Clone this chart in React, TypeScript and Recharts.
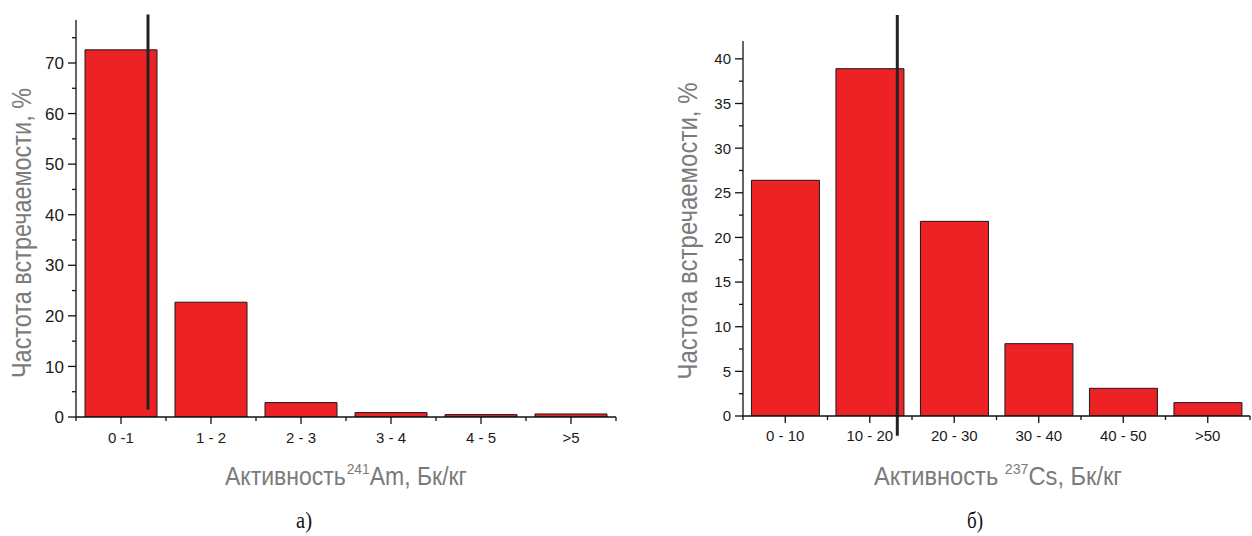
import { BarChart, Bar, XAxis, YAxis, ReferenceLine } from 'recharts';

// activity classes and frequency (%) — panel a) 241Am
const amCategories = ['0 -1', '1 - 2', '2 - 3', '3 - 4', '4 - 5', '>5'];
const amValues = [72.6, 22.7, 2.85, 0.87, 0.47, 0.6];
const amTicks = [0, 5, 10, 15, 20, 25, 30, 35, 40, 45, 50, 55, 60, 65, 70, 75];
const amMarker = [0, 0.8, 1.5, 79.6]; // category index, fraction of band, y from, y to

// panel б) 237Cs
const csCategories = ['0 - 10', '10 - 20', '20 - 30', '30 - 40', '40 - 50', '>50'];
const csValues = [26.4, 38.9, 21.8, 8.1, 3.1, 1.5];
const csTicks = [0, 2.5, 5, 7.5, 10, 12.5, 15, 17.5, 20, 22.5, 25, 27.5, 30, 32.5, 35, 37.5, 40];
const csMarker = [1, 0.826, -2.2, 44.9];

const amData = amCategories.map((name, i) => ({ name, value: amValues[i] }));
const csData = csCategories.map((name, i) => ({ name, value: csValues[i] }));

const FONT = '"Liberation Sans", Arial, sans-serif';
const AXIS = '#111';
const RED = '#ED2224';
const GREY = '#7b7b7b';

const makeYTick = (step: number, fontSize: number) => (props: any) => {
  const { x, y, payload } = props;
  const major = Math.abs(payload.value / step - Math.round(payload.value / step)) < 1e-6;
  return (
    <g>
      <line x1={x - (major ? 8 : 4)} x2={x} y1={y} y2={y} stroke={AXIS} strokeWidth={1.3} />
      {major && (
        <text x={x - 12} y={y} dy="0.36em" textAnchor="end" fontSize={fontSize} fontFamily={FONT} fill="#1a1a1a">
          {payload.value}
        </text>
      )}
    </g>
  );
};

const makeXTick = (band: number, count: number, dy: number) => (props: any) => {
  const { x, y, payload, index } = props;
  return (
    <g>
      <line x1={x} x2={x} y1={y} y2={y + 7} stroke={AXIS} strokeWidth={1.3} />
      <line x1={x - band / 2} x2={x - band / 2} y1={y} y2={y + 4} stroke={AXIS} strokeWidth={1.3} />
      {index === count - 1 && (
        <line x1={x + band / 2} x2={x + band / 2} y1={y} y2={y + 4} stroke={AXIS} strokeWidth={1.3} />
      )}
      <text x={x} y={y + dy} textAnchor="middle" fontSize={15} fontFamily={FONT} fill="#1a1a1a">
        {payload.value}
      </text>
    </g>
  );
};

function Panel({ data, ticks, max, step, yFont, marker, width, height, margin, band, tickDy }: any) {
  const cat = data[marker[0]].name;
  return (
    <BarChart width={width} height={height} data={data} margin={margin} barCategoryGap="10%">
      <XAxis
        dataKey="name"
        axisLine={{ stroke: AXIS, strokeWidth: 1.3 }}
        tickLine={false}
        tickSize={0}
        tickMargin={0}
        height={60}
        interval={0}
        tick={makeXTick(band, data.length, tickDy)}
      />
      <YAxis
        domain={[0, max]}
        ticks={ticks}
        allowDataOverflow
        axisLine={{ stroke: AXIS, strokeWidth: 1.3 }}
        tickLine={false}
        tickSize={0}
        tickMargin={0}
        width={60}
        interval={0}
        tick={makeYTick(step, yFont)}
      />
      <Bar dataKey="value" fill={RED} stroke="#1a1a1a" strokeWidth={1} isAnimationActive={false} />
      <ReferenceLine
        segment={[
          { x: cat, y: marker[2] },
          { x: cat, y: marker[3] },
        ]}
        position="start"
        ifOverflow="visible"
        shape={(p: any) => {
          const dx = marker[1] * band;
          return <line x1={p.x1 + dx} x2={p.x2 + dx} y1={p.y1} y2={p.y2} stroke="#222" strokeWidth={3} />;
        }}
      />
    </BarChart>
  );
}

export default function App() {
  return (
    <div style={{ position: 'absolute', left: 0, top: 0, width: 1252, height: 536, background: '#fff' }}>
      <div style={{ position: 'absolute', left: 0, top: 0 }}>
        <Panel
          data={amData}
          ticks={amTicks}
          max={78.5}
          step={10}
          yFont={17}
          marker={amMarker}
          width={640}
          height={500}
          margin={{ top: 20, right: 24, left: 16, bottom: 23 }}
          band={90}
          tickDy={26}
        />
      </div>
      <div style={{ position: 'absolute', left: 640, top: 0 }}>
        <Panel
          data={csData}
          ticks={csTicks}
          max={42}
          step={5}
          yFont={15}
          marker={csMarker}
          width={612}
          height={500}
          margin={{ top: 41, right: 2, left: 43, bottom: 24 }}
          band={84.5}
          tickDy={25}
        />
      </div>
      <svg width={1252} height={536} style={{ position: 'absolute', left: 0, top: 0, pointerEvents: 'none' }}>
        <text
          transform="translate(31,233) rotate(-90)"
          textAnchor="middle"
          fontSize={27}
          fontFamily={FONT}
          fill={GREY}
          textLength={290}
          lengthAdjust="spacingAndGlyphs"
        >
          Частота встречаемости, %
        </text>
        <text
          transform="translate(697,231) rotate(-90)"
          textAnchor="middle"
          fontSize={27}
          fontFamily={FONT}
          fill={GREY}
          textLength={297}
          lengthAdjust="spacingAndGlyphs"
        >
          Частота встречаемости, %
        </text>
        <text x={346} y={485} textAnchor="middle" fontSize={25} fontFamily={FONT} fill={GREY} textLength={242} lengthAdjust="spacingAndGlyphs">
          Активность
          <tspan fontSize={15} dx={1} dy={-11}>241</tspan>
          <tspan dy={11}>Am, Бк/кг</tspan>
        </text>
        <text x={998} y={485} textAnchor="middle" fontSize={25} fontFamily={FONT} fill={GREY} textLength={248} lengthAdjust="spacingAndGlyphs">
          Активность{' '}
          <tspan fontSize={15} dy={-11}>237</tspan>
          <tspan dy={11}>Cs, Бк/кг</tspan>
        </text>
        <text x={304} y={528} textAnchor="middle" fontSize={24} fontFamily='"Liberation Serif", serif' fill="#111" textLength={16} lengthAdjust="spacingAndGlyphs">
          а)
        </text>
        <text x={975} y={528} textAnchor="middle" fontSize={24} fontFamily='"Liberation Serif", serif' fill="#111" textLength={16} lengthAdjust="spacingAndGlyphs">
          б)
        </text>
      </svg>
    </div>
  );
}
